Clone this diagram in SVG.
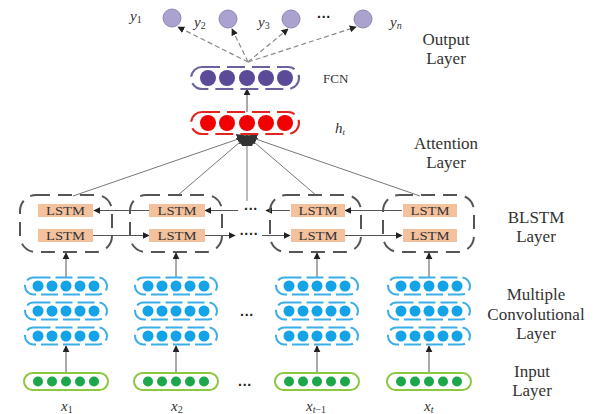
<svg xmlns="http://www.w3.org/2000/svg" width="600" height="414" viewBox="0 0 600 414">
<defs>
<marker id="ah" viewBox="0 0 10 10" refX="9" refY="5" markerWidth="7" markerHeight="7" markerUnits="userSpaceOnUse" orient="auto">
<path d="M0,0 L10,5 L0,10 z" fill="#222"/>
</marker>
<marker id="ahb" viewBox="0 0 10 10" refX="9" refY="5" markerWidth="11" markerHeight="11" markerUnits="userSpaceOnUse" orient="auto">
<path d="M0,0 L10,5 L0,10 z" fill="#333"/>
</marker>
</defs>
<style>
.lbl{font-family:"Liberation Serif","Times New Roman",serif;font-size:17px;fill:#333;text-anchor:middle}
.var{font-family:"Liberation Serif","Times New Roman",serif;font-style:italic;font-size:15px;fill:#333}
.box{fill:none;stroke:#555;stroke-width:2;stroke-dasharray:14 8}
.lstm{fill:#F3C19C}
.lt{font-family:"Liberation Serif","Times New Roman",serif;font-size:13px;fill:#333;text-anchor:middle}
.conv{fill:none;stroke:#3AAEE6;stroke-width:2;stroke-dasharray:17 5}
.bd{fill:#14A3E6}
.inp{fill:#fff;stroke:#8DC63F;stroke-width:2}
.gd{fill:#1CA84A}
.red{fill:none;stroke:#E3231F;stroke-width:2.2;stroke-dasharray:18 7}
.rd{fill:#F00000}
.fcn{fill:none;stroke:#6B619F;stroke-width:2.2;stroke-dasharray:18 7}
.pd{fill:#5B4A97}
.out{fill:#ABA2D0;stroke:#8F86B8;stroke-width:1}
.ln{stroke:#777;stroke-width:1;fill:none}
.ar{stroke:#555;stroke-width:1;fill:none;marker-end:url(#ah)}
.da{stroke:#888;stroke-width:1.2;stroke-dasharray:5 3;fill:none;marker-end:url(#ah)}
.dots{font-family:"Liberation Sans",Arial,sans-serif;font-weight:bold;font-size:14px;fill:#222;text-anchor:middle}
</style>

<!-- connectors -->
<g id="connectors">
<line class="da" x1="248" y1="62" x2="178" y2="27"/>
<line class="da" x1="248" y1="62" x2="232" y2="29"/>
<line class="da" x1="248" y1="62" x2="288" y2="29"/>
<line class="da" x1="248" y1="62" x2="356" y2="27"/>
<line class="ar" x1="247" y1="112" x2="247" y2="89"/>
<line class="ln" x1="73" y1="196" x2="247" y2="136" style="marker-end:url(#ahb)"/>
<line class="ln" x1="177" y1="196" x2="247" y2="136" style="marker-end:url(#ahb)"/>
<line class="ln" x1="247" y1="201" x2="247" y2="136" style="marker-end:url(#ahb)"/>
<line class="ln" x1="317" y1="196" x2="247" y2="136" style="marker-end:url(#ahb)"/>
<line class="ln" x1="420" y1="196" x2="247" y2="136" style="marker-end:url(#ahb)"/>
<line class="ar" x1="149" y1="210.5" x2="94" y2="210.5"/>
<line class="ar" x1="238" y1="210.5" x2="205" y2="210.5"/>
<line class="ar" x1="290" y1="210.5" x2="266" y2="210.5"/>
<line class="ar" x1="402" y1="210.5" x2="345" y2="210.5"/>
<line class="ar" x1="93" y1="235.5" x2="149" y2="235.5"/>
<line class="ar" x1="205" y1="235.5" x2="235" y2="235.5"/>
<line class="ar" x1="262" y1="235.5" x2="290" y2="235.5"/>
<line class="ar" x1="345" y1="235.5" x2="402" y2="235.5"/>
<line class="ar" x1="66" y1="277" x2="66" y2="253"/>
<line class="ar" x1="176" y1="277" x2="176" y2="253"/>
<line class="ar" x1="317" y1="277" x2="317" y2="253"/>
<line class="ar" x1="429" y1="277" x2="429" y2="253"/>
<line class="ar" x1="66" y1="373" x2="66" y2="346"/>
<line class="ar" x1="176" y1="373" x2="176" y2="346"/>
<line class="ar" x1="317" y1="373" x2="317" y2="346"/>
<line class="ar" x1="429" y1="373" x2="429" y2="346"/>
</g>

<g id="output">
<circle class="out" cx="172" cy="18" r="9"/>
<circle class="out" cx="228" cy="19" r="9"/>
<circle class="out" cx="291" cy="19" r="9"/>
<circle class="out" cx="363" cy="19" r="9"/>
<text class="var" x="130" y="21">y<tspan font-size="10" dy="2" font-style="normal">1</tspan></text>
<text class="var" x="194" y="27">y<tspan font-size="10" dy="2" font-style="normal">2</tspan></text>
<text class="var" x="258" y="27">y<tspan font-size="10" dy="2" font-style="normal">3</tspan></text>
<text class="dots" x="324" y="22">···</text>
<text class="var" x="390" y="27">y<tspan font-size="10" dy="2">n</tspan></text>
</g>

<g id="fcn">
<rect class="fcn" x="191" y="67" width="108" height="22" rx="11"/>
<circle class="pd" cx="208" cy="78" r="8"/>
<circle class="pd" cx="227" cy="78" r="8"/>
<circle class="pd" cx="247" cy="78" r="8"/>
<circle class="pd" cx="266" cy="78" r="8"/>
<circle class="pd" cx="285" cy="78" r="8"/>
<text x="323" y="83" font-family="Liberation Serif, serif" font-size="13" fill="#333">FCN</text>
</g>

<g id="ht">
<rect class="red" x="191" y="112" width="108" height="22" rx="11"/>
<circle class="rd" cx="208" cy="123" r="8"/>
<circle class="rd" cx="227" cy="123" r="8"/>
<circle class="rd" cx="247" cy="123" r="8"/>
<circle class="rd" cx="266" cy="123" r="8"/>
<circle class="rd" cx="285" cy="123" r="8"/>
<text class="var" x="335" y="133" font-size="14">h<tspan font-size="9" dy="2">t</tspan></text>
</g>

<g id="blstm1">
<rect class="box" x="20" y="195" width="92" height="57" rx="16"/>
<rect class="lstm" x="38" y="204" width="55" height="13"/>
<text class="lt" x="65.5" y="215" textLength="39" lengthAdjust="spacingAndGlyphs">LSTM</text>
<rect class="lstm" x="38" y="229" width="55" height="13"/>
<text class="lt" x="65.5" y="240" textLength="39" lengthAdjust="spacingAndGlyphs">LSTM</text>
</g>
<g id="blstm2">
<rect class="box" x="130" y="195" width="92" height="57" rx="16"/>
<rect class="lstm" x="149" y="204" width="56" height="13"/>
<text class="lt" x="177" y="215" textLength="39" lengthAdjust="spacingAndGlyphs">LSTM</text>
<rect class="lstm" x="149" y="229" width="56" height="13"/>
<text class="lt" x="177" y="240" textLength="39" lengthAdjust="spacingAndGlyphs">LSTM</text>
</g>
<text class="dots" x="251" y="214" font-size="12">···</text>
<text class="dots" x="249" y="239" font-size="12">····</text>
<g id="blstm3">
<rect class="box" x="270" y="195" width="91" height="57" rx="16"/>
<rect class="lstm" x="291" y="204" width="54" height="13"/>
<text class="lt" x="318" y="215" textLength="39" lengthAdjust="spacingAndGlyphs">LSTM</text>
<rect class="lstm" x="291" y="229" width="54" height="13"/>
<text class="lt" x="318" y="240" textLength="39" lengthAdjust="spacingAndGlyphs">LSTM</text>
</g>
<g id="blstm4">
<rect class="box" x="383" y="195" width="91" height="57" rx="16"/>
<rect class="lstm" x="403" y="204" width="54" height="13"/>
<text class="lt" x="430" y="215" textLength="39" lengthAdjust="spacingAndGlyphs">LSTM</text>
<rect class="lstm" x="403" y="229" width="54" height="13"/>
<text class="lt" x="430" y="240" textLength="39" lengthAdjust="spacingAndGlyphs">LSTM</text>
</g>

<g id="conv1">
<rect class="conv" x="25" y="277.5" width="82" height="17" rx="8.5"/>
<rect class="conv" x="25" y="302.5" width="82" height="17" rx="8.5"/>
<rect class="conv" x="25" y="327.5" width="82" height="17" rx="8.5"/>
<g class="bd">
<circle cx="38" cy="286" r="5.5"/><circle cx="52" cy="286" r="5.5"/><circle cx="66" cy="286" r="5.5"/><circle cx="80" cy="286" r="5.5"/><circle cx="94" cy="286" r="5.5"/>
<circle cx="38" cy="311" r="5.5"/><circle cx="52" cy="311" r="5.5"/><circle cx="66" cy="311" r="5.5"/><circle cx="80" cy="311" r="5.5"/><circle cx="94" cy="311" r="5.5"/>
<circle cx="38" cy="336" r="5.5"/><circle cx="52" cy="336" r="5.5"/><circle cx="66" cy="336" r="5.5"/><circle cx="80" cy="336" r="5.5"/><circle cx="94" cy="336" r="5.5"/>
</g>
</g>
<g id="conv2" transform="translate(110,0)">
<rect class="conv" x="25" y="277.5" width="82" height="17" rx="8.5"/>
<rect class="conv" x="25" y="302.5" width="82" height="17" rx="8.5"/>
<rect class="conv" x="25" y="327.5" width="82" height="17" rx="8.5"/>
<g class="bd">
<circle cx="38" cy="286" r="5.5"/><circle cx="52" cy="286" r="5.5"/><circle cx="66" cy="286" r="5.5"/><circle cx="80" cy="286" r="5.5"/><circle cx="94" cy="286" r="5.5"/>
<circle cx="38" cy="311" r="5.5"/><circle cx="52" cy="311" r="5.5"/><circle cx="66" cy="311" r="5.5"/><circle cx="80" cy="311" r="5.5"/><circle cx="94" cy="311" r="5.5"/>
<circle cx="38" cy="336" r="5.5"/><circle cx="52" cy="336" r="5.5"/><circle cx="66" cy="336" r="5.5"/><circle cx="80" cy="336" r="5.5"/><circle cx="94" cy="336" r="5.5"/>
</g>
</g>
<text class="dots" x="247" y="320" font-size="16">···</text>
<g id="conv3" transform="translate(251,0)">
<rect class="conv" x="25" y="277.5" width="82" height="17" rx="8.5"/>
<rect class="conv" x="25" y="302.5" width="82" height="17" rx="8.5"/>
<rect class="conv" x="25" y="327.5" width="82" height="17" rx="8.5"/>
<g class="bd">
<circle cx="38" cy="286" r="5.5"/><circle cx="52" cy="286" r="5.5"/><circle cx="66" cy="286" r="5.5"/><circle cx="80" cy="286" r="5.5"/><circle cx="94" cy="286" r="5.5"/>
<circle cx="38" cy="311" r="5.5"/><circle cx="52" cy="311" r="5.5"/><circle cx="66" cy="311" r="5.5"/><circle cx="80" cy="311" r="5.5"/><circle cx="94" cy="311" r="5.5"/>
<circle cx="38" cy="336" r="5.5"/><circle cx="52" cy="336" r="5.5"/><circle cx="66" cy="336" r="5.5"/><circle cx="80" cy="336" r="5.5"/><circle cx="94" cy="336" r="5.5"/>
</g>
</g>
<g id="conv4" transform="translate(363,0)">
<rect class="conv" x="25" y="277.5" width="82" height="17" rx="8.5"/>
<rect class="conv" x="25" y="302.5" width="82" height="17" rx="8.5"/>
<rect class="conv" x="25" y="327.5" width="82" height="17" rx="8.5"/>
<g class="bd">
<circle cx="38" cy="286" r="5.5"/><circle cx="52" cy="286" r="5.5"/><circle cx="66" cy="286" r="5.5"/><circle cx="80" cy="286" r="5.5"/><circle cx="94" cy="286" r="5.5"/>
<circle cx="38" cy="311" r="5.5"/><circle cx="52" cy="311" r="5.5"/><circle cx="66" cy="311" r="5.5"/><circle cx="80" cy="311" r="5.5"/><circle cx="94" cy="311" r="5.5"/>
<circle cx="38" cy="336" r="5.5"/><circle cx="52" cy="336" r="5.5"/><circle cx="66" cy="336" r="5.5"/><circle cx="80" cy="336" r="5.5"/><circle cx="94" cy="336" r="5.5"/>
</g>
</g>

<g id="input1">
<rect class="inp" x="24" y="373" width="84" height="17" rx="8.5"/>
<g class="gd"><circle cx="38" cy="381.5" r="5"/><circle cx="52" cy="381.5" r="5"/><circle cx="66" cy="381.5" r="5"/><circle cx="80" cy="381.5" r="5"/><circle cx="94" cy="381.5" r="5"/></g>
<text class="var" x="61" y="411">x<tspan font-size="10" dy="2" font-style="normal">1</tspan></text>
</g>
<g id="input2" transform="translate(110,0)">
<rect class="inp" x="24" y="373" width="84" height="17" rx="8.5"/>
<g class="gd"><circle cx="38" cy="381.5" r="5"/><circle cx="52" cy="381.5" r="5"/><circle cx="66" cy="381.5" r="5"/><circle cx="80" cy="381.5" r="5"/><circle cx="94" cy="381.5" r="5"/></g>
<text class="var" x="61" y="411">x<tspan font-size="10" dy="2" font-style="normal">2</tspan></text>
</g>
<text class="dots" x="245" y="390" font-size="16">···</text>
<g id="input3" transform="translate(251,0)">
<rect class="inp" x="24" y="373" width="84" height="17" rx="8.5"/>
<g class="gd"><circle cx="38" cy="381.5" r="5"/><circle cx="52" cy="381.5" r="5"/><circle cx="66" cy="381.5" r="5"/><circle cx="80" cy="381.5" r="5"/><circle cx="94" cy="381.5" r="5"/></g>
<text class="var" x="55" y="411">x<tspan font-size="10" dy="2">t</tspan><tspan font-size="10" font-style="normal">−1</tspan></text>
</g>
<g id="input4" transform="translate(363,0)">
<rect class="inp" x="24" y="373" width="84" height="17" rx="8.5"/>
<g class="gd"><circle cx="38" cy="381.5" r="5"/><circle cx="52" cy="381.5" r="5"/><circle cx="66" cy="381.5" r="5"/><circle cx="80" cy="381.5" r="5"/><circle cx="94" cy="381.5" r="5"/></g>
<text class="var" x="61" y="411">x<tspan font-size="10" dy="2">t</tspan></text>
</g>

<g id="labels">
<text class="lbl" x="446" y="45">Output</text>
<text class="lbl" x="446" y="64">Layer</text>
<text class="lbl" x="446" y="149">Attention</text>
<text class="lbl" x="446" y="168">Layer</text>
<text class="lbl" x="536" y="223">BLSTM</text>
<text class="lbl" x="536" y="242">Layer</text>
<text class="lbl" x="536" y="300">Multiple</text>
<text class="lbl" x="536" y="320">Convolutional</text>
<text class="lbl" x="536" y="339">Layer</text>
<text class="lbl" x="532" y="377">Input</text>
<text class="lbl" x="532" y="396">Layer</text>
</g>
</svg>
